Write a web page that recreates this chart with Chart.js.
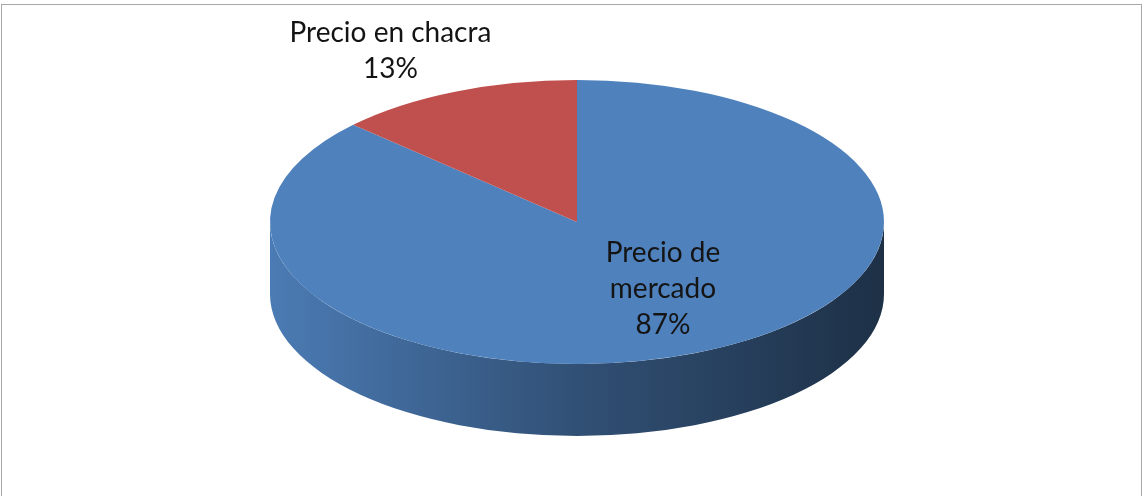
<!DOCTYPE html>
<html>
<head>
<meta charset="utf-8">
<script src="https://cdn.jsdelivr.net/npm/chart.js@4.4.0/dist/chart.umd.min.js"></script>
<style>
  html, body { margin: 0; padding: 0; background: #fff; }
  #wrap { width: 1146px; height: 496px; position: relative; }
</style>
</head>
<body>
<div id="wrap"><canvas id="pie"></canvas></div>
<script>
const categories = ['Precio de mercado', 'Precio en chacra'];
const shares = [87, 13];
const sliceColors = ['#4F81BD', '#C0504D'];

function shade(hex, f) {
    const n = parseInt(hex.slice(1), 16);
    const r = Math.round(((n >> 16) & 255) * f);
    const g = Math.round(((n >> 8) & 255) * f);
    const b = Math.round((n & 255) * f);
    return 'rgb(' + r + ',' + g + ',' + b + ')';
}

function wrapText(ctx, text, maxW) {
    const lines = [];
    let cur = '';
    text.split(' ').forEach((w) => {
        const t = cur ? cur + ' ' + w : w;
        if (cur && ctx.measureText(t).width > maxW) {
            lines.push(cur);
            cur = w;
        } else {
            cur = t;
        }
    });
    if (cur) lines.push(cur);
    return lines;
}

// Fake 3D: squash the pie vertically and draw the front wall under it
const pie3d = {
    id: 'pie3d',
    beforeDraw(chart, args, opts) {
        const ctx = chart.ctx;
        ctx.save();
        ctx.fillStyle = '#fff';
        ctx.fillRect(0, 0, chart.width, chart.height);
        ctx.strokeStyle = '#a8a8a8';
        ctx.lineWidth = 1;
        ctx.strokeRect(1.5, 4.5, 1140, 520);
        ctx.restore();
    },
    beforeDatasetsDraw(chart, args, opts) {
        const ctx = chart.ctx;
        const arcs = chart.getDatasetMeta(0).data;
        const x = arcs[0].x, y = arcs[0].y, r = arcs[0].outerRadius;
        const k = opts.tilt, d = opts.depth;
        const colors = chart.data.datasets[0].backgroundColor;

        arcs.forEach((arc, i) => {
            [[0, Math.PI], [2 * Math.PI, 3 * Math.PI]].forEach(([lo, hi]) => {
                const a0 = Math.max(arc.startAngle, lo);
                const a1 = Math.min(arc.endAngle, hi);
                if (a1 <= a0) return;
                const g = ctx.createLinearGradient(x - r, 0, x + r, 0);
                g.addColorStop(0, shade(colors[i], 0.95));
                g.addColorStop(0.5, shade(colors[i], 0.62));
                g.addColorStop(1, shade(colors[i], 0.37));
                ctx.beginPath();
                ctx.ellipse(x, y, r, r * k, 0, a0, a1);
                ctx.ellipse(x, y + d, r, r * k, 0, a1, a0, true);
                ctx.closePath();
                ctx.fillStyle = g;
                ctx.fill();
            });
        });

        ctx.save();
        ctx.translate(x, y);
        ctx.scale(1, k);
        ctx.translate(-x, -y);
    },
    afterDatasetsDraw(chart, args, opts) {
        const ctx = chart.ctx;
        ctx.restore();

        const arcs = chart.getDatasetMeta(0).data;
        const x = arcs[0].x, y = arcs[0].y, r = arcs[0].outerRadius;
        const values = chart.data.datasets[0].data;
        const total = values.reduce((a, b) => a + b, 0);

        ctx.save();
        ctx.font = opts.font;
        ctx.fillStyle = opts.color;
        ctx.textAlign = 'center';
        ctx.textBaseline = 'middle';
        arcs.forEach((arc, i) => {
            const mid = (arc.startAngle + arc.endAngle) / 2;
            const spot = opts.spots[i];
            const px = x + r * spot[0] * Math.cos(mid);
            const py = y + r * opts.tilt * spot[1] * Math.sin(mid);
            const lines = wrapText(ctx, chart.data.labels[i], opts.wrap[i]);
            lines.push(Math.round(values[i] / total * 100) + '%');
            lines.forEach((t, j) => {
                ctx.fillText(t, px, py + (j - (lines.length - 1) / 2) * opts.lineHeight);
            });
        });
        ctx.restore();
    }
};

const data = {
    labels: categories,
    datasets: [{
        data: shares,
        backgroundColor: sliceColors,
        borderWidth: 0,
        clip: false
    }]
};

const config = {
    type: 'pie',
    data: data,
    options: {
        responsive: true,
        maintainAspectRatio: false,
        animation: false,
        events: [],
        radius: 307,
        layout: { padding: { left: 8, right: 0, top: 0, bottom: 52 } },
        plugins: {
            legend: { display: false },
            tooltip: { enabled: false },
            pie3d: {
                tilt: 0.4625,
                depth: 72,
                font: '28px Lato',
                color: '#141414',
                lineHeight: 36,
                wrap: [140, 320],
                spots: [[0.705, 0.515], [1.53, 1.315]]
            }
        }
    },
    plugins: [pie3d]
};

new Chart(document.getElementById('pie'), config);
</script>
</body>
</html>
